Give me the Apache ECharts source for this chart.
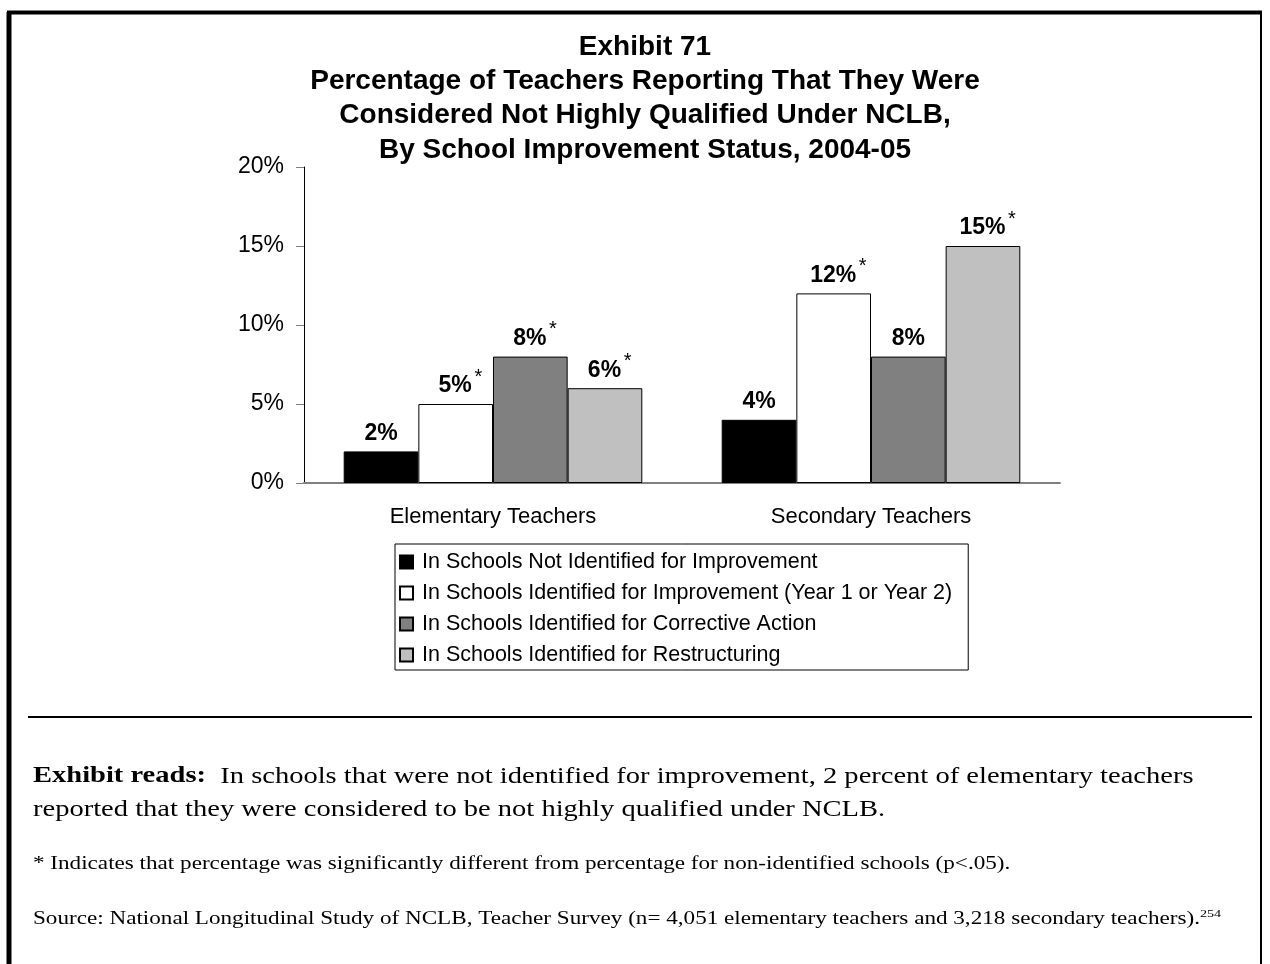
<!DOCTYPE html>
<html>
<head>
<meta charset="utf-8">
<script src="https://cdn.jsdelivr.net/npm/echarts@6/dist/echarts.min.js"></script>
<style>
html,body{margin:0;padding:0;background:#fff;}
#chart{width:1270px;height:964px;}
</style>
</head>
<body>
<div id="chart"></div>
<script>
// ---- data ----
const titleLines = ['Exhibit 71', 'Percentage of Teachers Reporting That They Were', 'Considered Not Highly Qualified Under NCLB,', 'By School Improvement Status, 2004-05'];
const categories = ['Elementary Teachers', 'Secondary Teachers'];
const seriesNames = [
  'In Schools Not Identified for Improvement',
  'In Schools Identified for Improvement (Year 1 or Year 2)',
  'In Schools Identified for Corrective Action',
  'In Schools Identified for Restructuring'
];
const notIdentified = [2, 4];
const identifiedImprovement = [5, 12];
const correctiveAction = [8, 8];
const restructuring = [6, 15];
// significance markers (asterisk) per series, per category
const sigNotIdentified = [false, false];
const sigImprovement = [true, true];
const sigCorrective = [true, false];
const sigRestructuring = [true, true];
const yTicks = [0, 5, 10, 15, 20];
const readsBold = 'Exhibit reads:';
const readsLine1 = '  In schools that were not identified for improvement, 2 percent of elementary teachers';
const readsLine2 = 'reported that they were considered to be not highly qualified under NCLB.';
const footnote = '* Indicates that percentage was significantly different from percentage for non-identified schools (p<.05).';
const sourceText = 'Source: National Longitudinal Study of NCLB, Teacher Survey (n= 4,051 elementary teachers and 3,218 secondary teachers).';
const sourceSup = '254';

// ---- chart ----
const colors = ['#000000', '#ffffff', '#808080', '#c0c0c0'];
const values = [notIdentified, identifiedImprovement, correctiveAction, restructuring];
const sigs = [sigNotIdentified, sigImprovement, sigCorrective, sigRestructuring];
const sans = 'Arial, "Liberation Sans", sans-serif';

function makeSeries(i) {
  return {
    name: seriesNames[i],
    type: 'bar',
    barGap: '0%',
    barCategoryGap: '21%',
    data: values[i].map((v, j) => ({
      value: v,
      label: {
        formatter: sigs[i][j] ? '{p|}{v|' + v + '%}{s|*}' : '{v|' + v + '%}'
      }
    })),
    itemStyle: { color: colors[i], borderColor: '#000', borderWidth: 1 },
    label: {
      show: true,
      position: 'top',
      distance: 6,
      rich: {
        v: { fontFamily: sans, fontSize: 23, fontWeight: 'bold', color: '#000', lineHeight: 24 },
        p: { width: 11 },
        s: { width: 11, fontFamily: sans, fontSize: 20, color: '#000', lineHeight: 24, padding: [0, 0, 18, 1] }
      }
    }
  };
}

const chart = echarts.init(document.getElementById('chart'), null, { renderer: 'canvas' });
const serifFont = '"Liberation Serif", "DejaVu Serif", serif';
const bodyScale = 1.24;
const noteScale = 1.285;
chart.setOption({
  animation: false,
  backgroundColor: '#ffffff',
  title: {
    text: titleLines.join('\n'),
    left: 640,
    top: 25,
    textAlign: 'center',
    textStyle: { fontFamily: sans, fontSize: 28, fontWeight: 'bold', color: '#000', lineHeight: 34.3 }
  },
  grid: { left: 304, right: 210, top: 167, bottom: 481, containLabel: false },
  xAxis: {
    type: 'category',
    data: categories,
    axisTick: { show: false },
    axisLine: { lineStyle: { color: '#808080', width: 2 } },
    axisLabel: { fontFamily: sans, fontSize: 22, color: '#000', margin: 23 }
  },
  yAxis: {
    type: 'value',
    min: yTicks[0],
    max: yTicks[yTicks.length - 1],
    interval: yTicks[1] - yTicks[0],
    axisLine: { show: true, lineStyle: { color: '#000', width: 1 } },
    axisTick: { show: true, length: 8, lineStyle: { color: '#808080', width: 1 } },
    splitLine: { show: false },
    axisLabel: { formatter: '{value}%', fontFamily: sans, fontSize: 23, color: '#000', margin: 20 }
  },
  legend: {
    orient: 'vertical',
    left: 395,
    top: 544,
    padding: [7, 16, 4, 4],
    itemWidth: 13,
    itemHeight: 13,
    itemGap: 9,
    icon: 'rect',
    borderColor: '#000',
    borderWidth: 1,
    textStyle: { fontFamily: sans, fontSize: 21.5, color: '#000', padding: [0, 0, 0, 4] },
    data: seriesNames
  },
  series: [0, 1, 2, 3].map(makeSeries),
  graphic: [
    { type: 'line', shape: { x1: 9, y1: 12, x2: 9, y2: 964 }, style: { stroke: '#000', lineWidth: 5 } },
    { type: 'line', shape: { x1: 7, y1: 12.5, x2: 1262, y2: 12.5 }, style: { stroke: '#000', lineWidth: 4 } },
    { type: 'line', shape: { x1: 1261, y1: 11, x2: 1261, y2: 964 }, style: { stroke: '#000', lineWidth: 2 } },
    { type: 'line', shape: { x1: 28, y1: 717, x2: 1252, y2: 717 }, style: { stroke: '#000', lineWidth: 2 } },
    {
      type: 'text', left: 33, top: 765, scaleX: bodyScale,
      style: {
        text: '{b|' + readsBold + '}{r|' + readsLine1 + '}',
        rich: {
          b: { font: 'bold 23px ' + serifFont, fill: '#000' },
          r: { font: '23px ' + serifFont, fill: '#000' }
        }
      }
    },
    { type: 'text', left: 33, top: 798, scaleX: bodyScale, style: { text: readsLine2, font: '23px ' + serifFont, fill: '#000' } },
    { type: 'text', left: 33, top: 855.5, scaleX: noteScale, style: { text: footnote, font: '18px ' + serifFont, fill: '#000' } },
    {
      type: 'text', left: 33, top: 908.5, scaleX: noteScale,
      style: {
        text: '{r|' + sourceText + '}{sup|' + sourceSup + '}',
        rich: {
          r: { font: '18px ' + serifFont, fill: '#000', lineHeight: 21 },
          sup: { font: '11px ' + serifFont, fill: '#000', lineHeight: 8, verticalAlign: 'top' }
        }
      }
    }
  ]
});
</script>
</body>
</html>
